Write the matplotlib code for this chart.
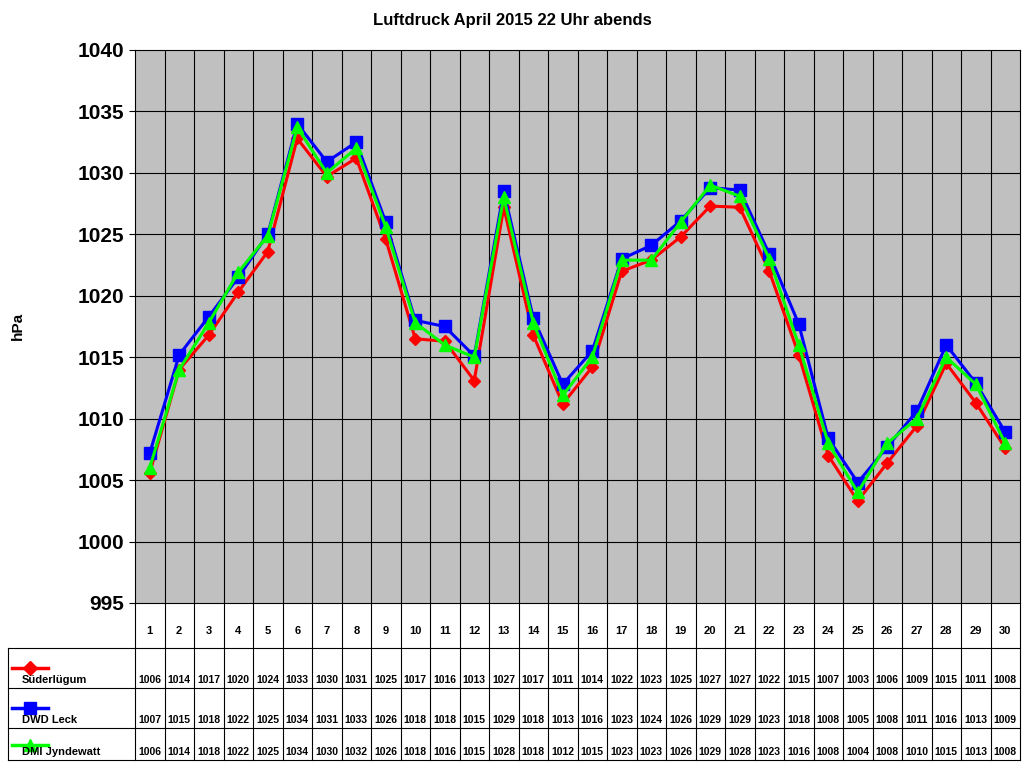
import matplotlib
matplotlib.use("Agg")
import matplotlib.pyplot as plt
import numpy as np

plt.rcParams['font.family'] = ['Liberation Sans', 'DejaVu Sans']
plt.rcParams['font.weight'] = 'bold'

days = list(range(1, 31))
sued = [1005.6,1014.0,1016.8,1020.3,1023.6,1032.8,1029.7,1031.2,1024.6,1016.5,1016.3,1013.1,1027.2,1016.8,1011.2,1014.2,1022.0,1022.9,1024.8,1027.3,1027.2,1022.0,1015.2,1007.0,1003.3,1006.4,1009.4,1014.5,1011.3,1007.6]
dwd = [1007.2,1015.2,1018.3,1021.5,1025.0,1034.0,1030.9,1032.5,1026.0,1018.0,1017.5,1015.1,1028.5,1018.2,1012.8,1015.5,1023.0,1024.1,1026.1,1028.8,1028.6,1023.4,1017.7,1008.4,1004.8,1007.7,1010.6,1016.0,1012.9,1008.9]
dmi = [1006.0,1014.0,1017.8,1021.9,1024.9,1033.7,1030.0,1032.0,1025.6,1017.8,1016.0,1015.0,1028.0,1017.8,1011.9,1015.0,1022.9,1022.9,1026.0,1029.0,1028.1,1023.0,1016.0,1008.0,1004.0,1008.0,1010.0,1015.0,1012.8,1008.0]
t_sued = [1006,1014,1017,1020,1024,1033,1030,1031,1025,1017,1016,1013,1027,1017,1011,1014,1022,1023,1025,1027,1027,1022,1015,1007,1003,1006,1009,1015,1011,1008]
t_dwd = [1007,1015,1018,1022,1025,1034,1031,1033,1026,1018,1018,1015,1029,1018,1013,1016,1023,1024,1026,1029,1029,1023,1018,1008,1005,1008,1011,1016,1013,1009]
t_dmi = [1006,1014,1018,1022,1025,1034,1030,1032,1026,1018,1016,1015,1028,1018,1012,1015,1023,1023,1026,1029,1028,1023,1016,1008,1004,1008,1010,1015,1013,1008]
names = ['Süderlügum', 'DWD Leck', 'DMI Jyndewatt']
colors = ['#ff0000', '#0000ff', '#00ff00']
markers = ['D', 's', '^']
msizes = [6, 8, 8]

W, H = 1024, 768
fig = plt.figure(figsize=(W/100, H/100), dpi=100)
L, R, T, B = 135, 1020, 50, 603
ax = fig.add_axes([L/W, 1-B/H, (R-L)/W, (B-T)/H])
ax.set_facecolor('#c0c0c0')
ax.set_xlim(0.5, 30.5)
ax.set_ylim(995, 1040)
ax.set_yticks(range(995, 1041, 5))
ax.tick_params(axis='y', labelsize=15, length=4)
ax.set_xticks([])
for lbl in ax.get_yticklabels():
    lbl.set_fontweight('bold')
for x in np.arange(1.5, 30.5, 1):
    ax.axvline(x, color='black', lw=0.8, zorder=0)
for y in range(1000, 1040, 5):
    ax.axhline(y, color='black', lw=0.8, zorder=0)
for s, c, m, ms in zip([sued, dwd, dmi], colors, markers, msizes):
    ax.plot(days, s, color=c, lw=2.2, marker=m, ms=ms, zorder=3)
for sp in ax.spines.values():
    sp.set_linewidth(0.8)
fig.text(18/W, 1-326/H, 'hPa', rotation=90, ha='center', va='center', fontsize=11, fontweight='bold')
fig.text(0.5, 1-20/H, 'Luftdruck April 2015 22 Uhr abends', ha='center', va='center', fontsize=12, fontweight='bold')

# table
tb = fig.add_axes([0, 0, 1, 1], facecolor='none')
tb.set_xlim(0, W); tb.set_ylim(H, 0); tb.axis('off')
cw = (R - L) / 30
rows = [603, 648, 688, 728, 760]
for x in np.arange(31):
    tb.plot([L + x*cw]*2, [rows[0], rows[-1]], color='black', lw=0.8)
for y in rows[1:]:
    tb.plot([8, R], [y, y], color='black', lw=0.8)
tb.plot([8, 8], [rows[1], rows[-1]], color='black', lw=0.8)
for i, d in enumerate(days):
    cx = L + (i + 0.5) * cw
    tb.text(cx, 631, str(d), ha='center', va='center', fontsize=8, fontweight='bold')
    for r, vals in enumerate([t_sued, t_dwd, t_dmi]):
        tb.text(cx, rows[r+2] - 8, str(vals[i]), ha='center', va='center', fontsize=7.5, fontweight='bold')
legy = [668, 708, 745]
for r in range(3):
    ly = legy[r]
    tb.plot([12, 48], [ly, ly], color=colors[r], lw=2.5)
    tb.plot([30], [ly], color=colors[r], marker=markers[r], ms=msizes[r] + 1)
    tb.text(22, rows[r+2] - 8, names[r], ha='left', va='center', fontsize=8, fontweight='bold')

fig.savefig('out.png', dpi=100)
